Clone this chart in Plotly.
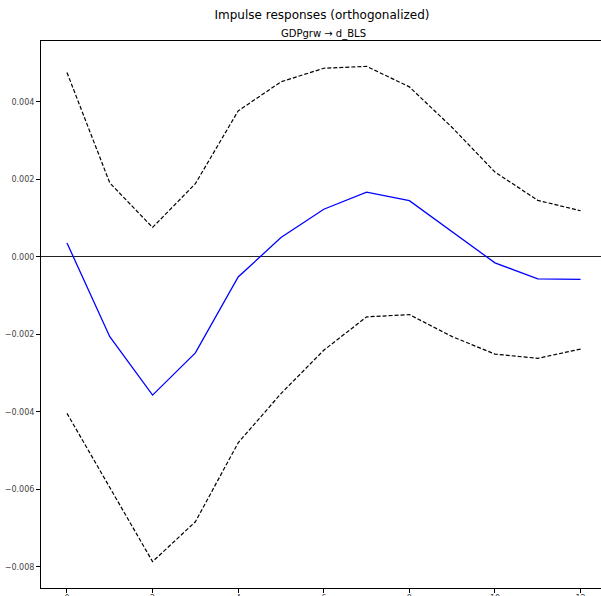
import plotly.graph_objects as go

# Horizons (periods after the shock)
periods = list(range(13))

# Orthogonalized impulse response of d_BLS to a GDPgrw shock
irf = [0.00036, -0.00206, -0.00357, -0.00248, -0.00052, 0.00050, 0.00123,
       0.00167, 0.00145, 0.00065, -0.000155, -0.00057, -0.00058]

# Confidence band bounds
upper = [0.00476, 0.00191, 0.00076, 0.00189, 0.00377, 0.00452, 0.00487,
         0.00492, 0.00439, 0.00334, 0.00219, 0.00146, 0.00119]
lower = [-0.00404, -0.00594, -0.00787, -0.00684, -0.00480, -0.00353, -0.00241,
         -0.00155, -0.00149, -0.00206, -0.00251, -0.00262, -0.00238]

x_ticks = [0, 2, 4, 6, 8, 10, 12]
y_ticks = [-0.008, -0.006, -0.004, -0.002, 0.000, 0.002, 0.004]

FONT = "DejaVu Sans"

fig = go.Figure()
fig.add_trace(go.Scatter(x=periods, y=irf, mode="lines",
                         line=dict(color="#0000ff", width=1.3),
                         showlegend=False, hoverinfo="skip"))
for band in (upper, lower):
    fig.add_trace(go.Scatter(x=periods, y=band, mode="lines",
                             line=dict(color="black", width=1.2, dash="4px,2px"),
                             showlegend=False, hoverinfo="skip"))

fig.update_layout(
    width=601, height=596,
    margin=dict(l=41, r=0, t=41, b=8, autoexpand=False),
    paper_bgcolor="white", plot_bgcolor="white",
    font=dict(family=FONT, color="black"),
    title=dict(text="Impulse responses (orthogonalized)",
               x=(322 - 41) / 560, xref="paper", xanchor="center",
               y=1 - 15 / 596, yref="container", yanchor="middle",
               font=dict(size=12, family=FONT, color="black")),
    annotations=[dict(text="GDPgrw → d_BLS", xref="paper", yref="paper",
                      x=(323 - 41) / 560, y=1 + (41 - 34) / 547,
                      xanchor="center", yanchor="middle", showarrow=False,
                      font=dict(size=10, family=FONT, color="black"))],
)

fig.update_xaxes(
    range=[-0.607, 12.477], tickvals=x_ticks, automargin=False,
    showgrid=False, zeroline=False,
    showline=True, linecolor="black", linewidth=1, mirror=True,
    ticks="outside", ticklen=4, tickcolor="black", tickwidth=1,
    ticklabelstandoff=-2,
    tickfont=dict(size=8, color="#444", family=FONT),
)
fig.update_yaxes(
    range=[-0.00855, 0.005574], tickvals=y_ticks, tickformat=".3f",
    automargin=False, showgrid=False,
    zeroline=True, zerolinecolor="#222", zerolinewidth=1.2,
    showline=True, linecolor="black", linewidth=1, mirror=False,
    ticks="outside", ticklen=4, tickcolor="black", tickwidth=1,
    tickfont=dict(size=8, color="#444", family=FONT),
)

fig.write_html("out.html")
